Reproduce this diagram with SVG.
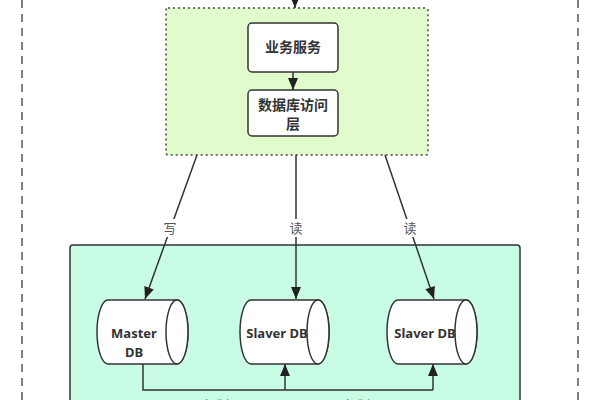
<svg xmlns="http://www.w3.org/2000/svg" width="600" height="400" viewBox="0 0 600 400">
<defs>
<style>
.box{fill:#fff;stroke:#333;stroke-width:1.5}
.t{font-family:"Noto Sans","Noto Sans CJK SC",sans-serif;font-weight:bold;font-size:13px;fill:#333;text-anchor:middle}
.tc{font-family:"Noto Sans CJK SC",sans-serif;font-weight:bold;font-size:14px;fill:#333;text-anchor:middle}
.lbl{font-family:"Noto Sans CJK SC","Noto Sans",sans-serif;font-size:13px;fill:#555;text-anchor:middle}
.ln{fill:none;stroke:#333;stroke-width:1.5}
.cyl{fill:#fff;stroke:#333;stroke-width:1.5}
</style>
<marker id="ahL" viewBox="0 0 12 10" refX="12" refY="5" markerWidth="13" markerHeight="10" markerUnits="userSpaceOnUse" orient="auto"><path d="M0,0 L12,5 L0,10 z" fill="#222"/></marker>
</defs>
<rect width="600" height="400" fill="#fff"/>
<g id="outer">
<line x1="22" y1="0" x2="22" y2="400" stroke="#555" stroke-width="1.5" stroke-dasharray="8 6"/>
<line x1="578" y1="0" x2="578" y2="400" stroke="#555" stroke-width="1.5" stroke-dasharray="8 6"/>
</g>
<g id="app-group">
<rect x="166" y="8" width="262" height="147" rx="2" fill="#e2fbcd" stroke="#444" stroke-width="1.5" stroke-dasharray="2 3"/>
</g>
<g id="db-group">
<rect x="70" y="245" width="450" height="170" rx="3" fill="#c9fce4" stroke="#333" stroke-width="1.5"/>
</g>
<g id="connectors">
<line class="ln" x1="295" y1="-5" x2="295" y2="8" marker-end="url(#ahL)"/>
<line class="ln" x1="293" y1="72" x2="293" y2="90" marker-end="url(#ahL)"/>
<line class="ln" x1="197" y1="155" x2="145" y2="299" marker-end="url(#ahL)"/>
<line class="ln" x1="296" y1="155" x2="296" y2="299" marker-end="url(#ahL)"/>
<line class="ln" x1="385" y1="155" x2="434" y2="299" marker-end="url(#ahL)"/>
<rect x="162" y="219" width="16" height="18" fill="#fff"/>
<rect x="288" y="219" width="16" height="18" fill="#fff"/>
<rect x="402" y="219" width="16" height="18" fill="#fff"/>
<text class="lbl" x="170" y="233">写</text>
<text class="lbl" x="296" y="233">读</text>
<text class="lbl" x="410" y="233">读</text>
<polyline class="ln" points="143,364 143,390 433,390"/>
<line class="ln" x1="285" y1="390" x2="285" y2="364" marker-end="url(#ahL)"/>
<line class="ln" x1="433" y1="390" x2="433" y2="364" marker-end="url(#ahL)"/>
<text class="lbl" x="216" y="410">复制</text>
<text class="lbl" x="357" y="410">复制</text>
</g>
<g id="biz">
<rect class="box" x="248" y="23" width="90" height="49" rx="4"/>
<text class="tc" x="293" y="52">业务服务</text>
</g>
<g id="dal">
<rect class="box" x="248" y="90" width="90" height="46" rx="4"/>
<text class="tc" x="293" y="110">数据库访问</text>
<text class="tc" x="293" y="129">层</text>
</g>
<g id="master">
<path class="cyl" d="M108,300 L177,300 A11,32 0 0 1 177,364 L108,364 A11,32 0 0 1 108,300 Z"/>
<ellipse class="cyl" cx="177" cy="332" rx="11" ry="32"/>
<text class="t" x="134" y="338">Master</text>
<text class="t" x="134" y="357">DB</text>
</g>
<g id="slave1">
<path class="cyl" d="M251,300 L318,300 A11,32 0 0 1 318,364 L251,364 A11,32 0 0 1 251,300 Z"/>
<ellipse class="cyl" cx="318" cy="332" rx="11" ry="32"/>
<text class="t" x="277" y="338">Slaver DB</text>
</g>
<g id="slave2">
<path class="cyl" d="M398,300 L466,300 A11,32 0 0 1 466,364 L398,364 A11,32 0 0 1 398,300 Z"/>
<ellipse class="cyl" cx="466" cy="332" rx="11" ry="32"/>
<text class="t" x="425" y="338">Slaver DB</text>
</g>
</svg>
